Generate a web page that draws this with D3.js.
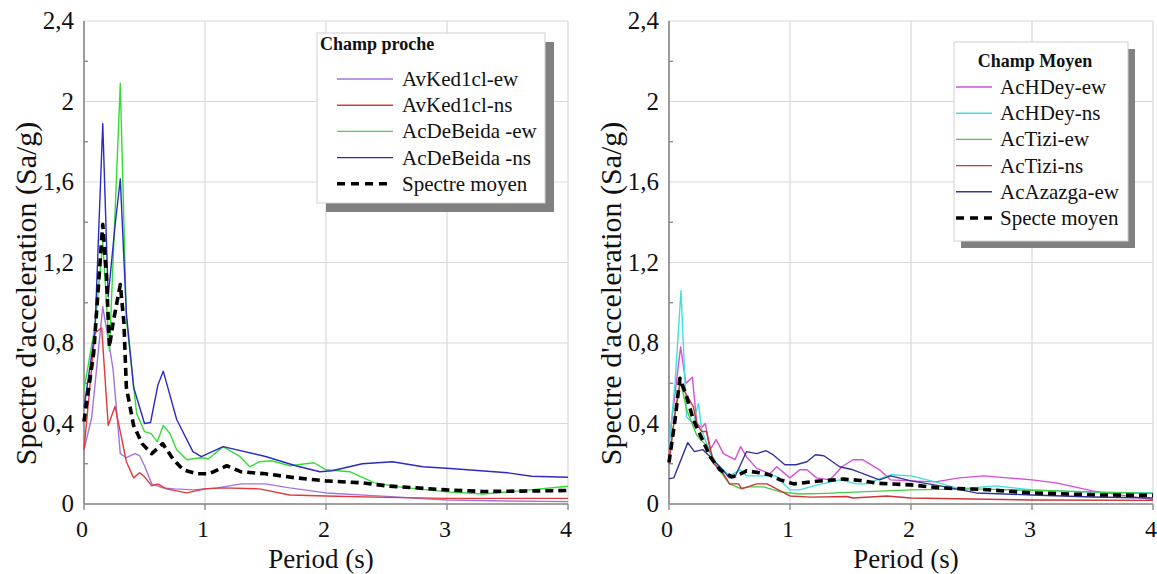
<!DOCTYPE html>
<html><head><meta charset="utf-8">
<script src="https://cdn.jsdelivr.net/npm/d3@7"></script>
<style>
body{margin:0;background:#fff}
svg{display:block}
</style>
</head><body>
<svg id="c" width="1157" height="574"></svg>
<script>
// ---- data ----
const xTicks = [0, 1, 2, 3, 4];
const yTicks = [0, 0.4, 0.8, 1.2, 1.6, 2, 2.4];
const yTickLabels = ["0", "0,4", "0,8", "1,2", "1,6", "2", "2,4"];
const yMinorTicks = [0.2, 0.6, 1.0, 1.4, 1.8, 2.2];

// Champ proche (left)
const leftTitle = "Champ proche";
const leftNames = ["AvKed1cl-ew", "AvKed1cl-ns", "AcDeBeida -ew", "AcDeBeida -ns", "Spectre moyen"];
const avKedEw = [[0,0.27],[0.064,0.43],[0.155,0.98],[0.2,0.82],[0.24,0.67],[0.3,0.25],[0.35,0.23],[0.42,0.25],[0.46,0.24],[0.5,0.19],[0.56,0.1],[0.65,0.08],[0.75,0.075],[0.9,0.07],[1.1,0.08],[1.3,0.1],[1.5,0.1],[1.7,0.08],[2,0.055],[2.5,0.038],[3,0.02],[3.5,0.015],[4,0.012]];
const avKedNs = [[0,0.27],[0.09,0.85],[0.146,0.875],[0.2,0.39],[0.256,0.485],[0.31,0.33],[0.35,0.21],[0.41,0.13],[0.46,0.155],[0.5,0.135],[0.56,0.09],[0.61,0.1],[0.68,0.075],[0.85,0.055],[1.0,0.075],[1.15,0.08],[1.45,0.075],[1.7,0.045],[2,0.04],[2.5,0.033],[3,0.028],[4,0.028]];
const deBeidaEw = [[0,0.57],[0.09,0.88],[0.155,1.3],[0.21,0.76],[0.3,2.09],[0.35,0.92],[0.435,0.45],[0.5,0.36],[0.555,0.35],[0.606,0.31],[0.655,0.39],[0.71,0.35],[0.766,0.27],[0.85,0.22],[0.96,0.23],[1.03,0.225],[1.15,0.285],[1.29,0.235],[1.37,0.185],[1.45,0.21],[1.55,0.215],[1.7,0.19],[1.9,0.205],[2.0,0.17],[2.2,0.16],[2.4,0.105],[2.6,0.085],[3.0,0.06],[3.3,0.05],[3.6,0.065],[4,0.088]];
const deBeidaNs = [[0,0.48],[0.09,0.85],[0.155,1.89],[0.2,1.03],[0.256,1.38],[0.3,1.615],[0.35,0.95],[0.41,0.58],[0.5,0.4],[0.55,0.405],[0.61,0.59],[0.655,0.66],[0.766,0.42],[0.9,0.26],[0.97,0.235],[1.15,0.285],[1.5,0.236],[1.75,0.19],[1.95,0.16],[2.05,0.165],[2.3,0.2],[2.55,0.21],[2.8,0.185],[3.0,0.178],[3.5,0.155],[3.7,0.138],[4,0.133]];
const leftMean = [[0,0.41],[0.08,0.75],[0.155,1.39],[0.185,1.14],[0.21,0.78],[0.24,0.9],[0.3,1.09],[0.33,0.9],[0.35,0.58],[0.41,0.39],[0.48,0.3],[0.56,0.25],[0.65,0.3],[0.74,0.22],[0.82,0.17],[0.93,0.15],[1.03,0.15],[1.18,0.19],[1.3,0.16],[1.5,0.15],[1.75,0.13],[2,0.115],[2.3,0.105],[2.5,0.09],[3,0.07],[3.3,0.062],[4,0.067]];

// Champ Moyen (right)
const rightTitle = "Champ Moyen";
const rightNames = ["AcHDey-ew", "AcHDey-ns", "AcTizi-ew", "AcTizi-ns", "AcAzazga-ew", "Specte moyen"];
const hDeyEw = [[0,0.3],[0.05,0.55],[0.096,0.78],[0.14,0.6],[0.193,0.63],[0.23,0.4],[0.27,0.38],[0.3,0.4],[0.34,0.27],[0.39,0.32],[0.45,0.25],[0.545,0.22],[0.592,0.285],[0.64,0.235],[0.725,0.177],[0.835,0.15],[0.89,0.185],[1.0,0.13],[1.08,0.17],[1.14,0.17],[1.22,0.13],[1.33,0.12],[1.43,0.185],[1.52,0.22],[1.6,0.22],[1.74,0.17],[1.83,0.12],[2.0,0.115],[2.2,0.11],[2.4,0.13],[2.6,0.14],[2.8,0.13],[3.0,0.12],[3.2,0.105],[3.5,0.065],[4,0.022]];
const hDeyNs = [[0,0.28],[0.05,0.6],[0.099,1.06],[0.145,0.434],[0.2,0.4],[0.243,0.5],[0.27,0.37],[0.31,0.3],[0.39,0.2],[0.5,0.14],[0.587,0.17],[0.64,0.14],[0.72,0.14],[0.88,0.14],[1.0,0.07],[1.08,0.07],[1.22,0.094],[1.41,0.12],[1.55,0.1],[1.63,0.1],[1.83,0.145],[2.0,0.14],[2.2,0.11],[2.4,0.075],[2.7,0.09],[3.0,0.07],[3.5,0.058],[4,0.055]];
const tiziEw = [[0,0.22],[0.05,0.45],[0.096,0.61],[0.145,0.47],[0.23,0.34],[0.31,0.29],[0.39,0.19],[0.5,0.1],[0.587,0.078],[0.67,0.085],[0.78,0.085],[0.92,0.06],[1.08,0.05],[1.3,0.053],[1.58,0.06],[2.0,0.07],[2.5,0.075],[3.0,0.068],[3.5,0.06],[4,0.052]];
const tiziNs = [[0,0.2],[0.05,0.45],[0.09,0.6],[0.2,0.485],[0.23,0.4],[0.27,0.36],[0.31,0.36],[0.37,0.2],[0.45,0.15],[0.5,0.1],[0.575,0.1],[0.6,0.075],[0.725,0.1],[0.81,0.1],[0.92,0.065],[1.0,0.04],[1.17,0.034],[1.47,0.037],[1.52,0.03],[1.8,0.04],[2.0,0.03],[2.5,0.025],[3,0.02],[4,0.018]];
const azazgaEw = [[0,0.126],[0.04,0.13],[0.155,0.305],[0.21,0.26],[0.28,0.27],[0.34,0.235],[0.42,0.185],[0.5,0.13],[0.545,0.135],[0.64,0.26],[0.725,0.25],[0.8,0.265],[0.86,0.245],[0.958,0.195],[1.05,0.195],[1.14,0.21],[1.21,0.245],[1.28,0.24],[1.41,0.185],[1.52,0.17],[1.63,0.145],[1.74,0.12],[1.83,0.14],[2.0,0.115],[2.24,0.09],[2.54,0.055],[3.0,0.045],[3.5,0.035],[4,0.03]];
const rightMean = [[0,0.206],[0.05,0.42],[0.09,0.625],[0.145,0.535],[0.2,0.42],[0.34,0.235],[0.42,0.17],[0.52,0.135],[0.56,0.14],[0.64,0.165],[0.75,0.155],[0.83,0.145],[0.92,0.12],[1.03,0.1],[1.22,0.113],[1.44,0.124],[1.58,0.117],[1.72,0.103],[2.0,0.095],[2.24,0.08],[2.6,0.072],[3,0.055],[3.56,0.045],[4,0.043]];

const leftColors = ["#a274dc", "#e03a3a", "#33dd33", "#2b2bc4", "#000"];
const rightColors = ["#d64fd6", "#44dede", "#44cc44", "#cc3535", "#33339a", "#000"];

// ---- drawing ----
const FONT = "'Liberation Serif', 'Times New Roman', Times, 'DejaVu Serif', serif";
const svg = d3.select("#c");
const Y0 = 504, Y1 = 21;

function txt(sel) { return sel.attr("font-family", FONT).attr("fill", "#111"); }

function panel(x0, x1, seriesList, names, colors, leg) {
  const x = d3.scaleLinear().domain([0, 4]).range([x0, x1]);
  const y = d3.scaleLinear().domain([0, 2.4]).range([Y0, Y1]);
  const g = svg.append("g");
  g.selectAll(".gx").data(xTicks).enter().append("line")
    .attr("x1", d => x(d)).attr("x2", d => x(d)).attr("y1", Y0).attr("y2", Y1)
    .attr("stroke", "#d9d9d9").attr("stroke-width", 1.2);
  g.selectAll(".gy").data(yTicks).enter().append("line")
    .attr("x1", x0).attr("x2", x1).attr("y1", d => y(d)).attr("y2", d => y(d))
    .attr("stroke", "#d9d9d9").attr("stroke-width", 1.2);
  g.selectAll(".my").data(yMinorTicks).enter().append("line")
    .attr("x1", x0).attr("x2", x0 + 4).attr("y1", d => y(d)).attr("y2", d => y(d))
    .attr("stroke", "#777").attr("stroke-width", 1.2);
  g.selectAll(".tx").data(xTicks).enter().append("line")
    .attr("x1", d => x(d)).attr("x2", d => x(d)).attr("y1", Y0).attr("y2", Y0 + 6)
    .attr("stroke", "#777").attr("stroke-width", 1.2);
  g.append("line").attr("x1", x0).attr("x2", x0).attr("y1", Y0).attr("y2", Y1).attr("stroke", "#888").attr("stroke-width", 1.6);
  g.append("line").attr("x1", x0).attr("x2", x1).attr("y1", Y0).attr("y2", Y0).attr("stroke", "#888").attr("stroke-width", 1.6);
  txt(g.selectAll(".ly").data(yTicks).enter().append("text"))
    .attr("x", x0 - 10).attr("y", d => y(d) + 8).attr("text-anchor", "end")
    .attr("font-size", 25).text((d, i) => yTickLabels[i]);
  txt(g.selectAll(".lx").data(xTicks).enter().append("text"))
    .attr("x", d => x(d) - 2).attr("y", 537).attr("text-anchor", "middle")
    .attr("font-size", 24).text(d => d);
  txt(g.append("text")).attr("x", (x0 + x1) / 2 - 5).attr("y", 568).attr("text-anchor", "middle")
    .attr("font-size", 27).text("Period (s)");
  txt(g.append("text")).attr("transform", `translate(${x0 - 48},${(Y0 + Y1) / 2 + 31}) rotate(-90)`)
    .attr("text-anchor", "middle").attr("font-size", 30).text("Spectre d'acceleration (Sa/g)");
  const line = d3.line().x(d => x(d[0])).y(d => y(d[1]));
  seriesList.forEach((s, i) => {
    const isMean = i === seriesList.length - 1;
    g.append("path").attr("d", line(s)).attr("fill", "none")
      .attr("stroke", colors[i])
      .attr("stroke-width", isMean ? 3.6 : 1.4)
      .attr("stroke-dasharray", isMean ? "8,5" : null)
      .attr("stroke-linejoin", "round");
  });
  const L = svg.append("g");
  L.append("rect").attr("x", leg.x + leg.sh).attr("y", leg.y + leg.sh).attr("width", leg.w).attr("height", leg.h).attr("fill", "#808080");
  L.append("rect").attr("x", leg.x).attr("y", leg.y).attr("width", leg.w).attr("height", leg.h).attr("fill", "#fff").attr("stroke", "#d0d0d0");
  txt(L.append("text")).attr("x", leg.tx).attr("y", leg.ty).attr("text-anchor", leg.tanchor)
    .attr("font-size", 18).attr("font-weight", "bold").text(leg.title);
  names.forEach((n, i) => {
    const cy = leg.r0 + i * leg.dr;
    const isMean = i === names.length - 1;
    L.append("line").attr("x1", leg.lx0).attr("x2", leg.lx1).attr("y1", cy).attr("y2", cy)
      .attr("stroke", colors[i]).attr("stroke-width", isMean ? 3.6 : 1.4)
      .attr("stroke-dasharray", isMean ? "8,6" : null);
    txt(L.append("text")).attr("x", leg.textX).attr("y", cy + 7).attr("font-size", 21).text(n);
  });
}

panel(84, 568, [avKedEw, avKedNs, deBeidaEw, deBeidaNs, leftMean], leftNames, leftColors,
  {x: 317, y: 33, w: 228, h: 170, sh: 9, title: leftTitle, tx: 320, ty: 50, tanchor: "start",
   r0: 79, dr: 26.2, lx0: 337, lx1: 393, textX: 402});
panel(669, 1153, [hDeyEw, hDeyNs, tiziEw, tiziNs, azazgaEw, rightMean], rightNames, rightColors,
  {x: 954, y: 42, w: 174, h: 199, sh: 7, title: rightTitle, tx: 1035, ty: 67, tanchor: "middle",
   r0: 87, dr: 26.2, lx0: 956, lx1: 992, textX: 1000});
</script>
</body></html>
